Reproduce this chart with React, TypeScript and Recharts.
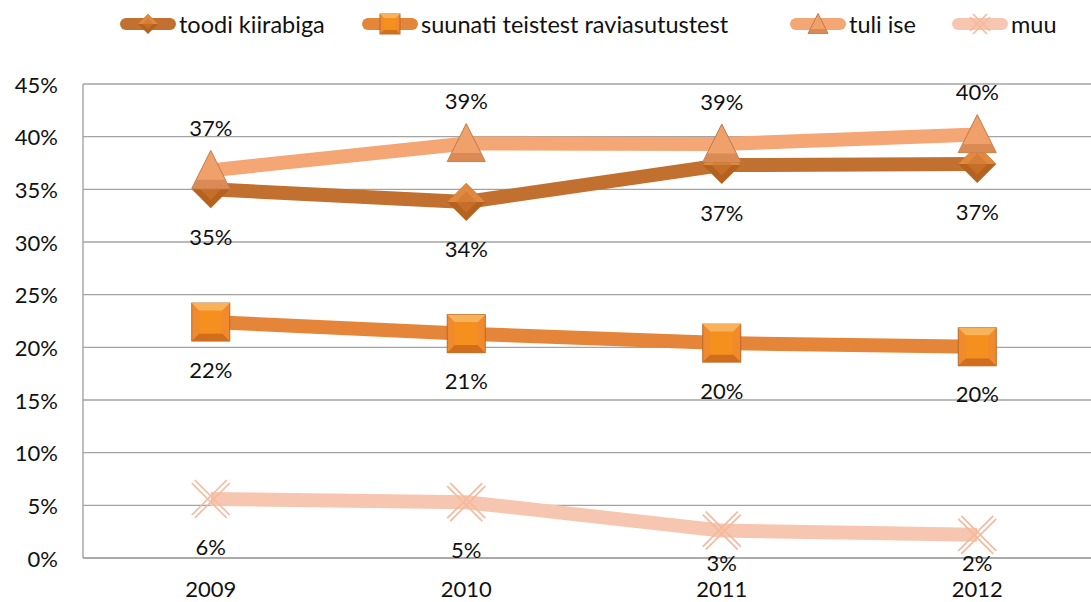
import React from 'react';
import { LineChart, Line, XAxis, YAxis, CartesianGrid, LabelList } from 'recharts';

const years = ['2009', '2010', '2011', '2012'];
const toodiKiirabiga = [35.0, 33.8, 37.3, 37.4];
const suunatiTeistest = [22.4, 21.3, 20.4, 20.05];
const tuliIse = [36.8, 39.35, 39.3, 40.2];
const muu = [5.6, 5.3, 2.6, 2.2];
const yTicks = [0, 5, 10, 15, 20, 25, 30, 35, 40, 45];

const data = years.map((year, i) => ({
  year,
  toodi: toodiKiirabiga[i],
  suunati: suunatiTeistest[i],
  tuli: tuliIse[i],
  muu: muu[i],
}));

const FONT = 'Lato, "Open Sans", sans-serif';

type Kind = 'diamond' | 'square' | 'triangle' | 'cross';

// legendX: where each legend entry starts
const series: { key: string; name: string; color: string; kind: Kind; labelPos: 'above' | 'below'; legendX: number }[] = [
  { key: 'toodi', name: 'toodi kiirabiga', color: '#c2702f', kind: 'diamond', labelPos: 'below', legendX: 120 },
  { key: 'suunati', name: 'suunati teistest raviasutustest', color: '#e5853a', kind: 'square', labelPos: 'below', legendX: 362 },
  { key: 'tuli', name: 'tuli ise', color: '#f4a674', kind: 'triangle', labelPos: 'above', legendX: 790 },
  { key: 'muu', name: 'muu', color: '#f6c6b0', kind: 'cross', labelPos: 'below', legendX: 952 },
];

// beveled marker shapes, roughly like the office chart style
const Marker = ({ kind, cx, cy, s }: { kind: Kind; cx: number; cy: number; s: number }) => {
  const h = s / 2;
  if (kind === 'diamond') {
    return (
      <g>
        <polygon points={`${cx},${cy - h} ${cx + h},${cy} ${cx},${cy + h} ${cx - h},${cy}`} fill="#b5621f" />
        <polygon points={`${cx},${cy - h} ${cx + h},${cy} ${cx - h},${cy}`} fill="#e0893f" />
        <polygon points={`${cx},${cy - h * 0.55} ${cx + h * 0.55},${cy} ${cx},${cy + h * 0.55} ${cx - h * 0.55},${cy}`} fill="#d07630" opacity={0.6} />
      </g>
    );
  }
  if (kind === 'square') {
    return (
      <g>
        <rect x={cx - h} y={cy - h} width={s} height={s} fill="#f08a2c" stroke="#b8692a" strokeWidth={1} />
        <polygon points={`${cx - h},${cy - h} ${cx + h},${cy - h} ${cx + h * 0.6},${cy - h * 0.6} ${cx - h * 0.6},${cy - h * 0.6}`} fill="#f8b25a" />
        <polygon points={`${cx - h},${cy + h} ${cx + h},${cy + h} ${cx + h * 0.6},${cy + h * 0.6} ${cx - h * 0.6},${cy + h * 0.6}`} fill="#d06e1e" />
        <rect x={cx - h * 0.6} y={cy - h * 0.6} width={s * 0.6} height={s * 0.6} fill="#f5901f" />
      </g>
    );
  }
  if (kind === 'triangle') {
    const top = cy - h * 1.05;
    const bot = cy + h * 0.95;
    return (
      <g>
        <polygon points={`${cx},${top} ${cx + h},${bot} ${cx - h},${bot}`} fill="#f0a06a" stroke="#c27a4a" strokeWidth={1} />
        <polygon points={`${cx - h * 0.75},${bot - h * 0.45} ${cx + h * 0.75},${bot - h * 0.45} ${cx + h},${bot} ${cx - h},${bot}`} fill="#d98a55" />
      </g>
    );
  }
  return (
    <g stroke="#f5b99c" strokeWidth={1.6} fill="none">
      <line x1={cx - h} y1={cy - h + 3} x2={cx + h - 3} y2={cy + h} />
      <line x1={cx - h + 3} y1={cy - h} x2={cx + h} y2={cy + h - 3} />
      <line x1={cx + h} y1={cy - h + 3} x2={cx - h + 3} y2={cy + h} />
      <line x1={cx + h - 3} y1={cy - h} x2={cx - h} y2={cy + h - 3} />
    </g>
  );
};

const renderLabel = (pos: 'above' | 'below') => (p: any) => {
  const { x, y, value, index } = p;
  if (x == null || y == null) return null;
  const ty = pos === 'above' ? y - 43 : Math.min(y + 47, 562);
  return (
    <text key={`l-${index}`} x={x} y={ty} textAnchor="middle" dominantBaseline="central" fontSize={22} fontFamily={FONT} fill="#111">
      {`${Math.round(value)}%`}
    </text>
  );
};

const YTick = (p: any) => (
  <text x={58} y={p.y} textAnchor="end" dominantBaseline="central" fontSize={22} fontFamily={FONT} fill="#111">
    {`${p.payload.value}%`}
  </text>
);

const XTick = (p: any) => (
  <text x={p.x} y={588} textAnchor="middle" dominantBaseline="central" fontSize={22} fontFamily={FONT} fill="#111">
    {p.payload.value}
  </text>
);

const LegendRow = () => (
  <div style={{ position: 'absolute', top: 4, left: 0, fontFamily: FONT, fontSize: 23.5, color: '#111', whiteSpace: 'nowrap' }}>
    {series.map((s) => (
      <div key={s.key} style={{ position: 'absolute', left: s.legendX, top: 0, display: 'flex', alignItems: 'center' }}>
        <svg width={56} height={40}>
          <line x1={6} y1={20} x2={50} y2={20} stroke={s.color} strokeWidth={12} strokeLinecap="round" />
          <Marker kind={s.kind} cx={28} cy={20} s={20} />
        </svg>
        <span style={{ marginLeft: 3 }}>{s.name}</span>
      </div>
    ))}
  </div>
);

export default function App() {
  return (
    <div style={{ position: 'fixed', top: 0, left: 0, width: 1091, height: 602, overflow: 'hidden', background: '#fff' }}>
      <LegendRow />
      <div style={{ position: 'absolute', top: 0, left: 0 }}>
        <LineChart width={1105} height={602} data={data} margin={{ top: 84, right: 0, bottom: 0, left: 0 }}>
          <CartesianGrid vertical={false} stroke="#a3a3a3" strokeWidth={1.4} />
          <XAxis
            dataKey="year"
            scale="band"
            height={44}
            tickLine={false}
            axisLine={{ stroke: '#a3a3a3', strokeWidth: 1.4 }}
            tick={<XTick />}
          />
          <YAxis
            width={83}
            domain={[0, 45]}
            ticks={yTicks}
            tickLine={false}
            axisLine={{ stroke: '#a3a3a3', strokeWidth: 1.4 }}
            tick={<YTick />}
          />
          {series.map((s) => (
            <Line
              key={s.key}
              dataKey={s.key}
              name={s.name}
              type="linear"
              stroke={s.color}
              strokeWidth={14}
              strokeLinejoin="round"
              isAnimationActive={false}
              dot={(p: any) => <Marker key={`${s.key}-${p.index}`} kind={s.kind} cx={p.cx} cy={p.cy} s={38} />}
              activeDot={false}
            >
              <LabelList dataKey={s.key} content={renderLabel(s.labelPos)} />
            </Line>
          ))}
        </LineChart>
      </div>
    </div>
  );
}
